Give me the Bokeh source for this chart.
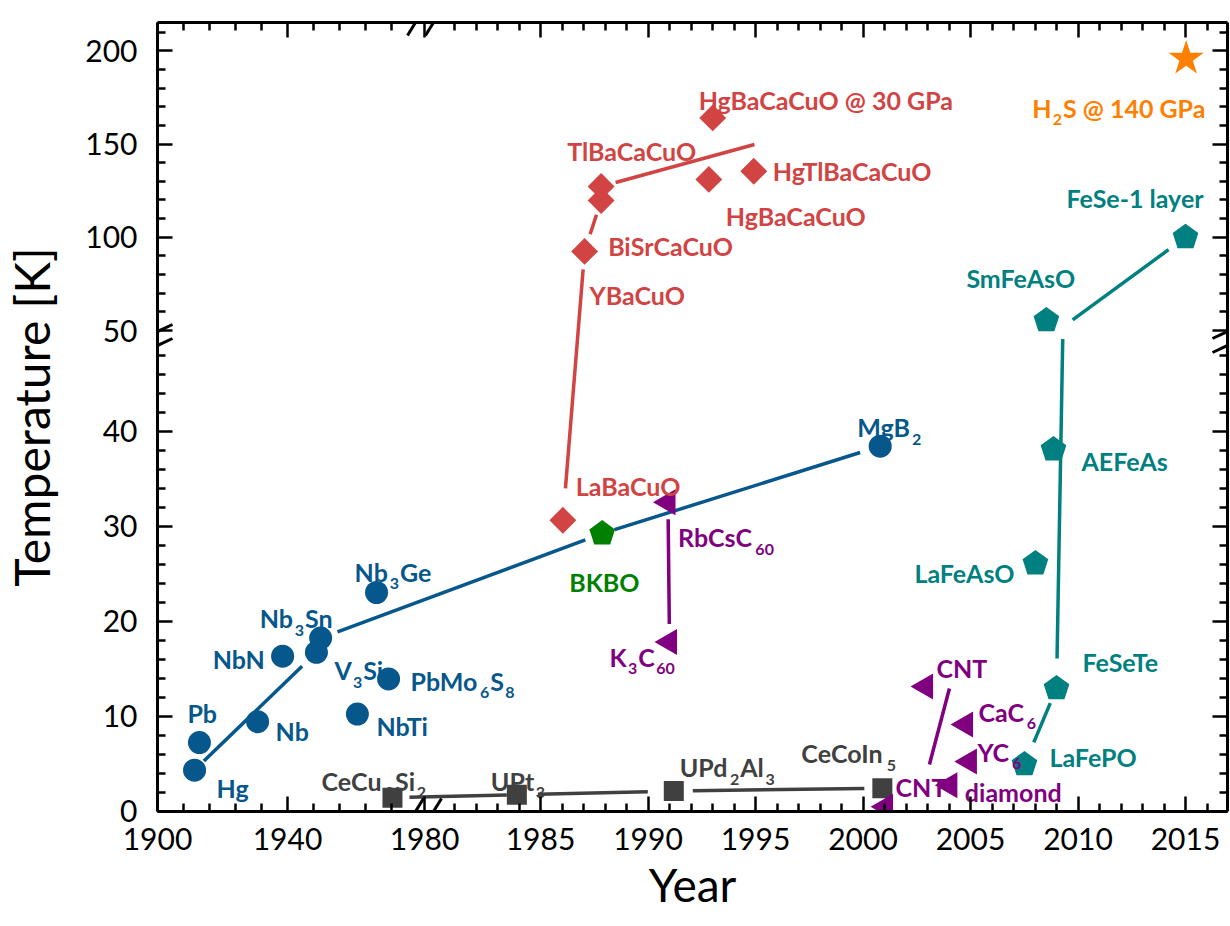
import math
import re
from bokeh.plotting import figure
from bokeh.models import LinearAxis, FixedTicker, Range1d, ColumnDataSource, Arrow
from bokeh.core.properties import value
from bokeh.embed import file_html
from bokeh.resources import INLINE

# ------------------------------------------------------------------ data
# conventional (BCS) superconductors
conv_names = ["Hg", "Pb", "Nb", "NbN", "V_3Si", "Nb_3Sn", "NbTi", "Nb_3Ge", "PbMo_6S_8", "MgB_2"]
conv_year = [1911.4, 1912.9, 1930.8, 1938.5, 1948.9, 1950.2, 1961.5, 1967.4, 1971.1, 2000.8]
conv_tc = [4.3, 7.2, 9.4, 16.3, 16.7, 18.2, 10.2, 23.0, 13.9, 38.4]

# heavy fermion
hf_names = ["CeCu_2Si_2", "UPt_3", "UPd_2Al_3", "CeCoIn_5"]
hf_year = [1972.3, 1983.9, 1991.2, 2000.9]
hf_tc = [1.4, 1.7, 2.1, 2.4]

# cuprates
cup_names = ["LaBaCuO", "YBaCuO", "BiSrCaCuO", "TlBaCaCuO", "HgBaCaCuO", "HgTlBaCaCuO", "HgBaCaCuO @ 30 GPa"]
cup_year = [1986.04, 1987.05, 1987.82, 1987.82, 1992.83, 1994.92, 1993.01]
cup_tc = [30.6, 92.4, 119.7, 127.2, 131.0, 135.4, 164.0]

# carbon based
carb_names = ["RbCsC_60", "K_3C_60", "CNT", "CaC_6", "YC_6", "diamond", "CNT"]
carb_year = [1990.93, 1991.0, 2002.91, 2004.77, 2004.95, 2004.04, 2001.05]
carb_tc = [32.5, 17.8, 13.1, 9.1, 5.2, 2.7, 0.45]

# iron based
fe_names = ["LaFePO", "LaFeAsO", "SmFeAsO", "AEFeAs", "FeSeTe", "FeSe-1 layer"]
fe_year = [2007.51, 2008.02, 2008.53, 2008.86, 2009.0, 2015.0]
fe_tc = [4.9, 26.05, 55.4, 38.05, 12.9, 100.0]

# bismuthate
bkbo_names = ["BKBO"]
bkbo_year = [1987.87]
bkbo_tc = [29.2]

# hydride
h2s_names = ["H_2S @ 140 GPa"]
h2s_year = [2015.03]
h2s_tc = [195.8]

# trend lines
conv_trend_year = [conv_year[0], conv_year[4], conv_year[5], bkbo_year[0], conv_year[9]]
conv_trend_tc = [conv_tc[0], conv_tc[4], conv_tc[5], bkbo_tc[0], conv_tc[9]]
hf_trend_year = hf_year
hf_trend_tc = hf_tc
cup_trend_year = [cup_year[0], cup_year[1], cup_year[2], cup_year[3], 1994.95]
cup_trend_tc = [cup_tc[0], cup_tc[1], cup_tc[2], cup_tc[3], 149.7]
c60_trend_year = [carb_year[0], carb_year[1]]
c60_trend_tc = [carb_tc[0], carb_tc[1]]
cnt_trend_year = [2004.02, 2003.09]
cnt_trend_tc = [12.9, 4.9]
fe_trend_year = [fe_year[0], fe_year[4], 2009.30, fe_year[5]]
fe_trend_tc = [fe_tc[0], fe_tc[4], 51.9, fe_tc[5]]

# tick labels
x_major_years = [1900, 1940, 1980, 1985, 1990, 1995, 2000, 2005, 2010, 2015]
y_major_tc = [0, 10, 20, 30, 40, 50, 100, 150, 200]

# ------------------------------------------------------------------ styles
BLUE = "#06578c"
RED = "#d24343"
PURPLE = "#800080"
TEAL = "#008080"
GREEN = "#008000"
GRAY = "#404040"
ORANGE = "#ff8000"
FONT = "Lato"

# label offsets (screen px from marker: dx right, dy down)
conv_lab_off = [(22, 18), (-12, -30), (18, 9), (-70, 3), (18, 18), (-61, -20), (19, 12), (-22, -21), (22, 2), (-23, -19)]
hf_lab_off = [(-71, -17), (-26, -14), (6, -24), (-81, -35)]
cup_lab_off = [(13, -34), (5, 44), (7, 45), (-34, -36), (17, 37), (19, 0), (-14, -18)]
carb_lab_off = [(10, 35), (-60, 15), (11, -19), (13, -13), (8, -10), (15, 7), (10, -20)]
fe_lab_off = [(25, -7), (-121, 9), (-80, -42), (28, 11), (26, -26), (-119, -39)]
bkbo_lab_off = [(-33, 48)]
h2s_lab_off = [(-154, 49)]

# gaps between line ends and symbols (px), per segment
conv_gaps = [(13, 20), (14, 14), (18, 18), (13, 21)]
hf_gaps = [(17, 10), (21, 26), (19, 18)]
cup_gaps = [(32, 18), (18, 15), (15, 15), (15, 0)]
c60_gaps = [(17, 18)]
cnt_gaps = [(0, 0)]
fe_gaps = [(24, 16), (30, 12), (12, 21)]

# ------------------------------------------------------------------ broken axes
FRAME_W, FRAME_H = 1070, 789


def fx(year):
    if year < 1979:
        return (year - 1900) * 3.25
    return 383 + (year - 1985) * 21.5


def fy(t):
    if t < 49:
        return 0.5 + 9.5 * t
    return 481 + 1.865 * (t - 50)


BREAK_X = 267
BREAK_Y = 473

p = figure(frame_width=FRAME_W, frame_height=FRAME_H,
           x_range=Range1d(0, FRAME_W), y_range=Range1d(0, FRAME_H),
           x_axis_type=None, y_axis_type=None,
           output_backend="svg", toolbar_location=None,
           min_border_left=150, min_border_right=2, min_border_top=22, min_border_bottom=100)
p.outline_line_color = None
p.background_fill_color = "white"
p.border_fill_color = "white"

# ticks
x_major_pos = []
x_over = {}
for yr in x_major_years:
    pos = float(BREAK_X) if yr == 1980 else round(fx(yr), 3)
    x_major_pos.append(pos)
    x_over[pos] = str(yr)
x_minor_pos = [round(fx(y), 3) for y in range(1908, 1976, 8) if y != 1940]
x_minor_pos += [round(fx(y), 3) for y in range(1981, 2017) if y % 5 != 0]

y_major_pos = []
y_over = {}
for t in y_major_tc:
    pos = round(fy(t), 3)
    y_major_pos.append(pos)
    y_over[pos] = str(t)
y_minor_pos = [round(fy(t), 3) for t in range(2, 49, 2) if t % 10 != 0]
y_minor_pos += [round(fy(t), 3) for t in range(60, 215, 10) if t % 50 != 0]

xt = FixedTicker(ticks=x_major_pos, minor_ticks=x_minor_pos)
yt = FixedTicker(ticks=y_major_pos, minor_ticks=y_minor_pos)


def style_axis(ax, show_labels):
    ax.axis_line_width = 3
    ax.axis_line_color = "black"
    ax.major_tick_line_width = 2.5
    ax.minor_tick_line_width = 2.5
    ax.major_tick_in = 15
    ax.major_tick_out = 0
    ax.minor_tick_in = 8
    ax.minor_tick_out = 0
    if show_labels:
        ax.major_label_text_font = FONT
        ax.major_label_text_font_size = "30px"
        ax.major_label_text_color = "black"
        ax.axis_label_text_font = FONT
        ax.axis_label_text_font_size = "46px"
        ax.axis_label_text_font_style = "normal"
        ax.axis_label_text_color = "black"
    else:
        ax.major_label_text_font_size = "1px"
        ax.major_label_text_color = None
        ax.major_label_standoff = 0


bottom = LinearAxis(ticker=xt, major_label_overrides=x_over, axis_label="Year")
style_axis(bottom, True)
bottom.major_label_standoff = 16
bottom.axis_label_standoff = 4
p.add_layout(bottom, "below")

left = LinearAxis(ticker=yt, major_label_overrides=y_over, axis_label="Temperature [K]")
style_axis(left, True)
left.axis_label_text_font_size = "48px"
left.major_label_standoff = 20
left.axis_label_standoff = 22
p.add_layout(left, "left")

top = LinearAxis(ticker=xt)
style_axis(top, False)
p.add_layout(top, "above")
right = LinearAxis(ticker=yt)
style_axis(right, False)
p.add_layout(right, "right")

# break marks
for sy in (0, FRAME_H):
    for c in (BREAK_X - 9, BREAK_X + 9):
        p.add_layout(Arrow(x_start=c - 8, y_start=sy - 13, x_end=c + 8, y_end=sy + 13,
                           start=None, end=None, line_width=3, line_color="black"))
for sx in (0, FRAME_W):
    for c in (BREAK_Y + 7, BREAK_Y - 7):
        p.add_layout(Arrow(x_start=sx - 15, y_start=c - 7, x_end=sx + 15, y_end=c + 7,
                           start=None, end=None, line_width=3, line_color="black"))


# ------------------------------------------------------------------ trend lines
def trend(years, tcs, gaps, color):
    xs = [fx(y) for y in years]
    ys = [fy(t) for t in tcs]
    x0, y0, x1, y1 = [], [], [], []
    for i in range(len(xs) - 1):
        ax_, ay_, bx_, by_ = xs[i], ys[i], xs[i + 1], ys[i + 1]
        d = math.hypot(bx_ - ax_, by_ - ay_)
        g0, g1 = gaps[i]
        if d <= g0 + g1 + 1:
            continue
        ux, uy = (bx_ - ax_) / d, (by_ - ay_) / d
        x0.append(ax_ + ux * g0)
        y0.append(ay_ + uy * g0)
        x1.append(bx_ - ux * g1)
        y1.append(by_ - uy * g1)
    p.segment(x0=x0, y0=y0, x1=x1, y1=y1, line_color=color, line_width=3.5)


trend(conv_trend_year, conv_trend_tc, conv_gaps, BLUE)
trend(hf_trend_year, hf_trend_tc, hf_gaps, GRAY)
trend(cup_trend_year, cup_trend_tc, cup_gaps, RED)
trend(c60_trend_year, c60_trend_tc, c60_gaps, PURPLE)
trend(cnt_trend_year, cnt_trend_tc, cnt_gaps, PURPLE)
trend(fe_trend_year, fe_trend_tc, fe_gaps, TEAL)

# ------------------------------------------------------------------ symbols
p.scatter([fx(y) for y in conv_year], [fy(t) for t in conv_tc], marker="circle",
          size=23, fill_color=BLUE, line_color=None)
p.scatter([fx(y) for y in hf_year], [fy(t) for t in hf_tc], marker="square",
          size=20, fill_color=GRAY, line_color=None)
p.scatter([fx(y) for y in cup_year], [fy(t) for t in cup_tc], marker="square", angle=math.pi / 4,
          size=19, fill_color=RED, line_color=None)
p.scatter([fx(y) for y in carb_year], [fy(t) for t in carb_tc], marker="triangle", angle=math.pi / 2,
          size=26, fill_color=PURPLE, line_color=None)
p.scatter([fx(y) for y in h2s_year], [fy(t) for t in h2s_tc], marker="star",
          size=37, fill_color=ORANGE, line_color=None)


def pentagons(years, tcs, color, r=13.5):
    xs, ys = [], []
    for yr, t in zip(years, tcs):
        cx, cy = fx(yr), fy(t)
        xs.append([cx + r * math.cos(math.pi / 2 + k * 2 * math.pi / 5) for k in range(5)])
        ys.append([cy + r * math.sin(math.pi / 2 + k * 2 * math.pi / 5) for k in range(5)])
    p.patches(xs, ys, fill_color=color, line_color=None)


pentagons(fe_year, fe_tc, TEAL)
pentagons(bkbo_year, bkbo_tc, GREEN)

# ------------------------------------------------------------------ labels
W = dict(A=.70, B=.68, C=.68, D=.76, E=.58, F=.56, G=.74, H=.78, I=.31, J=.42, K=.70, L=.52, M=.94,
         N=.78, O=.81, P=.63, Q=.81, R=.66, S=.56, T=.60, U=.75, V=.70, W=1.04, X=.69, Y=.66, Z=.62,
         a=.53, b=.585, c=.49, d=.585, e=.545, f=.35, g=.53, h=.585, i=.27, j=.27, k=.55, l=.27, m=.87,
         n=.585, o=.58, p=.585, q=.585, r=.40, s=.45, t=.38, u=.585, v=.53, w=.80, x=.53, y=.53, z=.47)
W.update({str(d): .58 for d in range(10)})
W.update({" ": .20, "@": .87, "-": .37, ".": .25})
MAIN_SIZE, SUB_SIZE, SUB_DROP = 25, 16, 12


def tw(s, size):
    return sum(W.get(ch, .56) for ch in s) * size


main = dict(x=[], y=[], text=[], color=[])
sub = dict(x=[], y=[], text=[], color=[])


def add_labels(names, years, tcs, offsets, color):
    for name, yr, t, (dx, dy) in zip(names, years, tcs, offsets):
        cx = fx(yr) + dx
        by = fy(t) - dy
        parts = re.split(r"_(\d+)", name)
        for i, part in enumerate(parts):
            if not part:
                continue
            if i % 2 == 0:
                main["x"].append(cx); main["y"].append(by); main["text"].append(part); main["color"].append(color)
                cx += tw(part, MAIN_SIZE)
            else:
                cx += 1
                sub["x"].append(cx); sub["y"].append(by - SUB_DROP); sub["text"].append(part); sub["color"].append(color)
                cx += tw(part, SUB_SIZE) + 1


add_labels(conv_names, conv_year, conv_tc, conv_lab_off, BLUE)
add_labels(hf_names, hf_year, hf_tc, hf_lab_off, GRAY)
add_labels(cup_names, cup_year, cup_tc, cup_lab_off, RED)
add_labels(carb_names, carb_year, carb_tc, carb_lab_off, PURPLE)
add_labels(fe_names, fe_year, fe_tc, fe_lab_off, TEAL)
add_labels(bkbo_names, bkbo_year, bkbo_tc, bkbo_lab_off, GREEN)
add_labels(h2s_names, h2s_year, h2s_tc, h2s_lab_off, ORANGE)

p.text(x="x", y="y", text="text", text_color="color", source=ColumnDataSource(main),
       text_font=value(FONT), text_font_style="bold", text_font_size=f"{MAIN_SIZE}px",
       text_align="left", text_baseline="alphabetic")
p.text(x="x", y="y", text="text", text_color="color", source=ColumnDataSource(sub),
       text_font=value(FONT), text_font_style="bold", text_font_size=f"{SUB_SIZE}px",
       text_align="left", text_baseline="alphabetic")

open("out.html", "w").write(file_html(p, INLINE))
